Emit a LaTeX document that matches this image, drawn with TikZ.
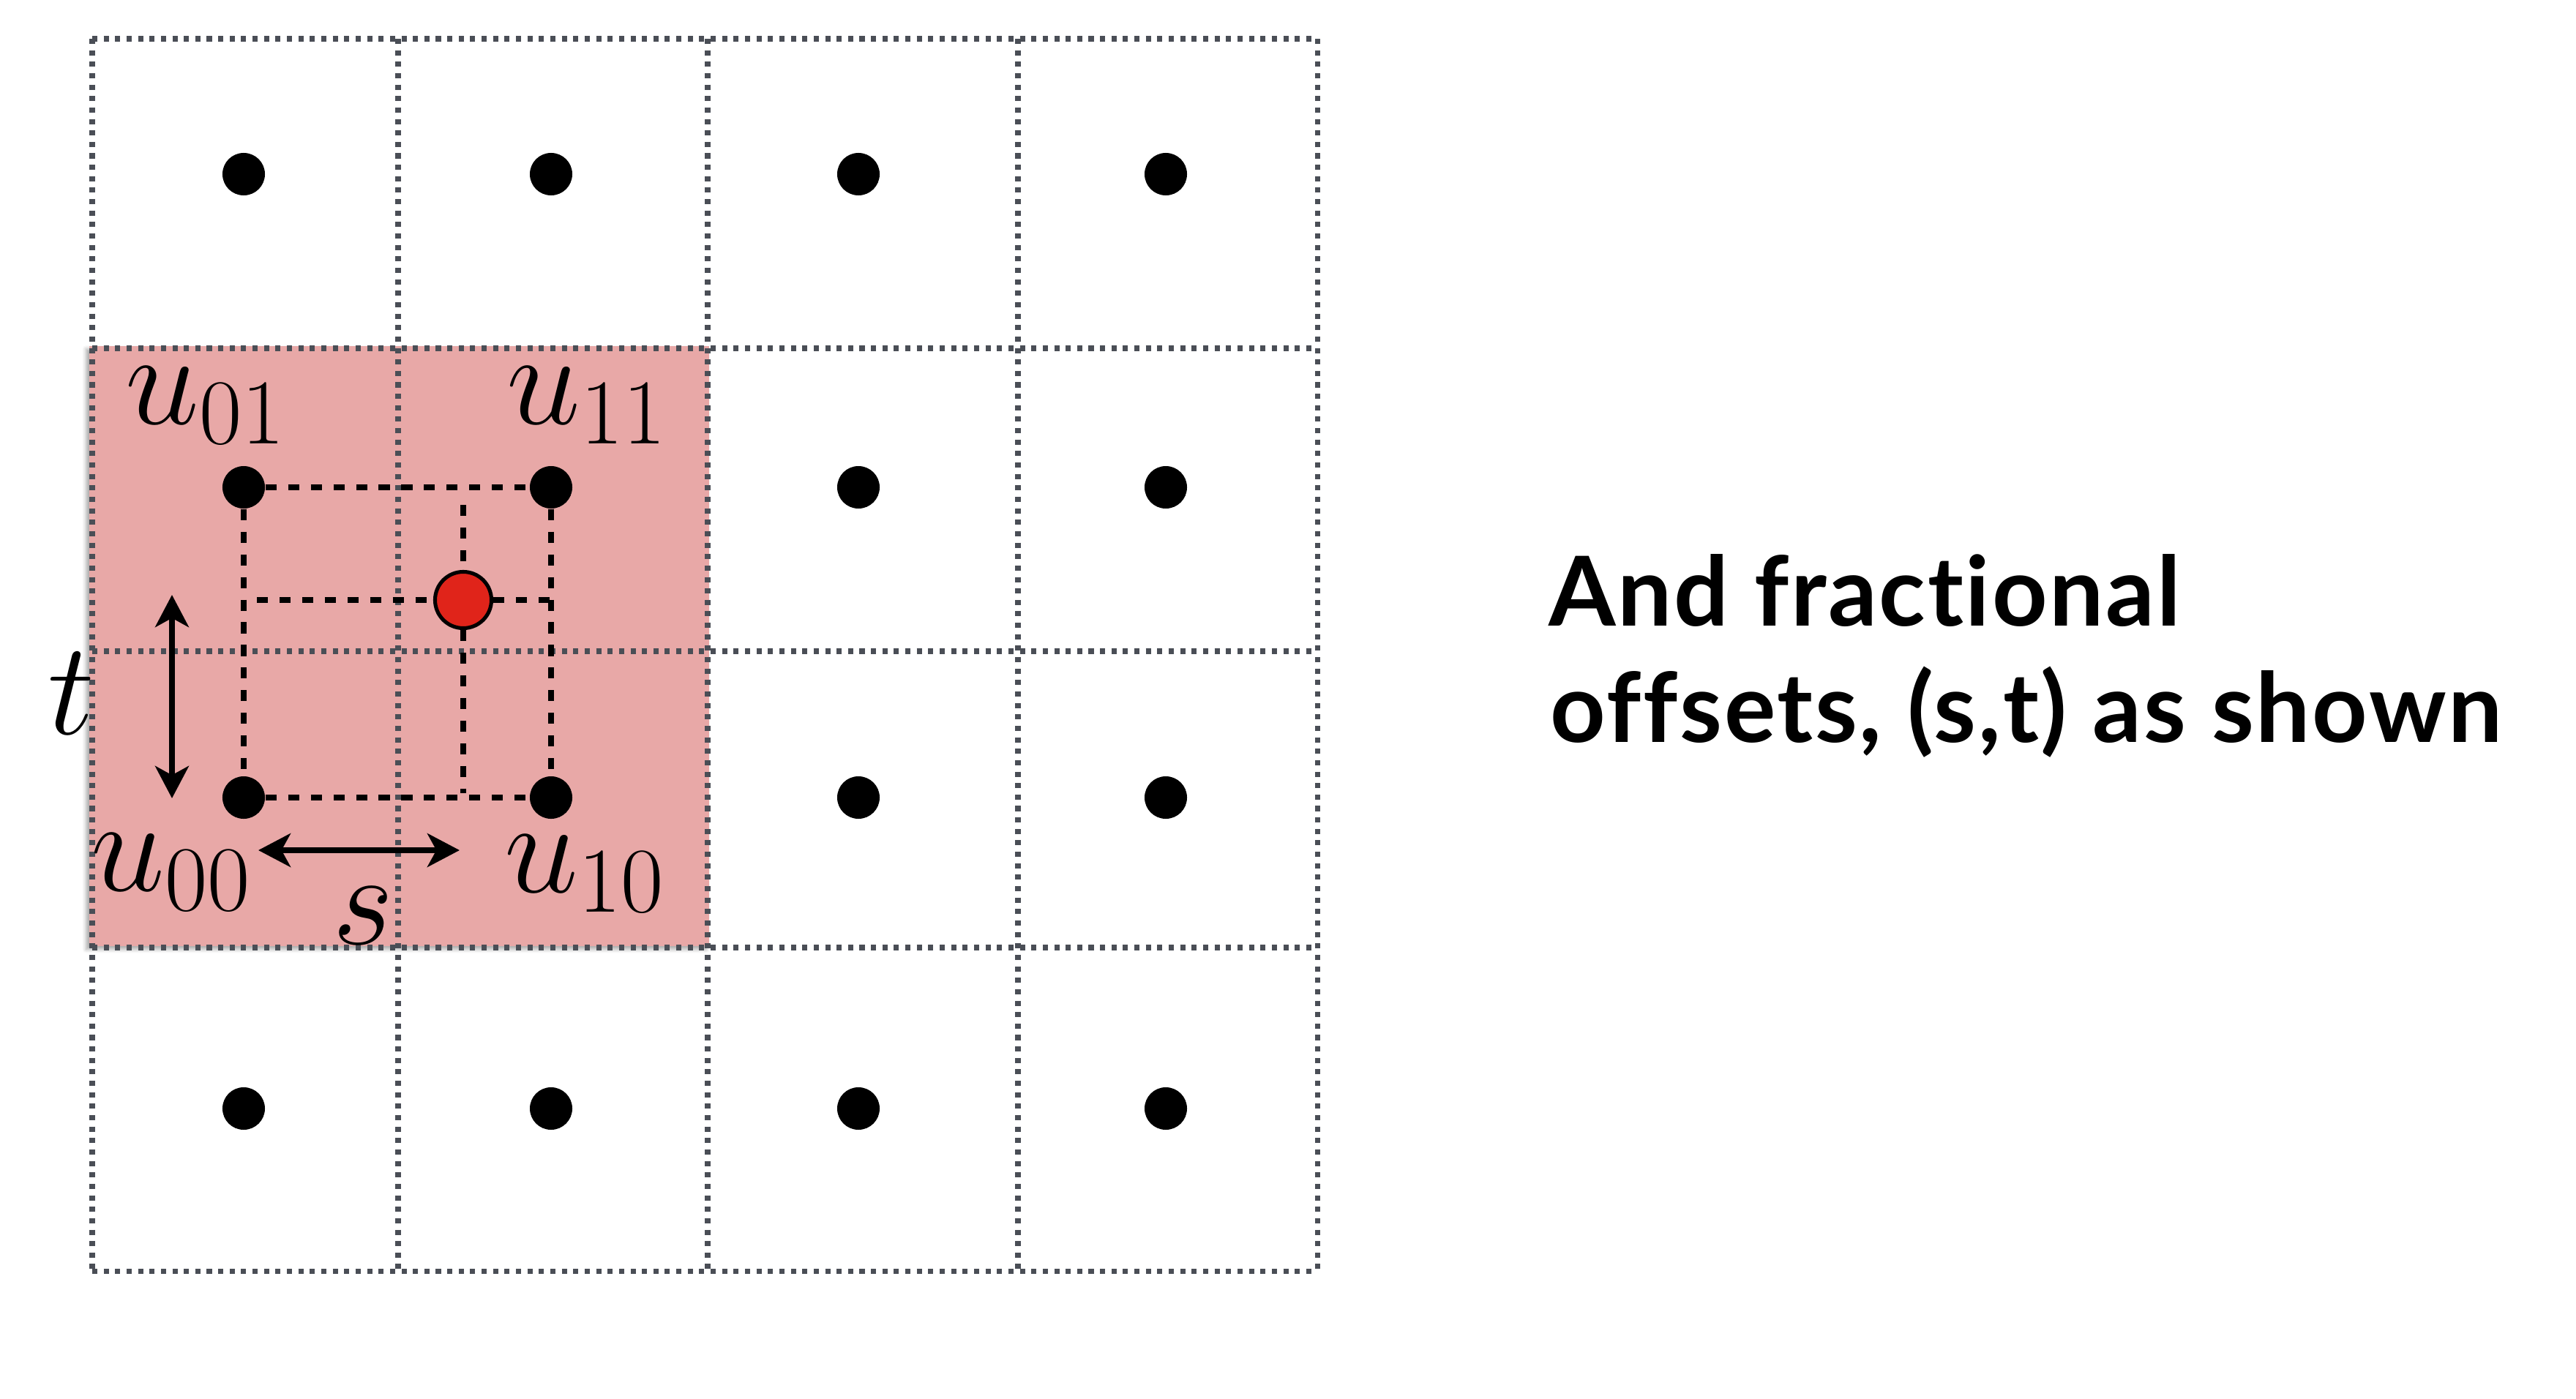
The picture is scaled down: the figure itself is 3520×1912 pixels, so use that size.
\RequirePackage{fix-cm}
\documentclass[tikz,border=0pt]{standalone}
\usepackage{fontspec}
\newfontfamily\avenir{Lato}[Ligatures=NoCommon,LetterSpace=2.0]
\usetikzlibrary{arrows.meta,shadows.blur}
\definecolor{gridgray}{HTML}{4A4E56}
\definecolor{pinkfill}{HTML}{E8A8A7}
\definecolor{reddot}{HTML}{E0241A}
\tikzset{
  gridline/.style={gridgray,line width=2pt,dash pattern=on 2pt off 2.45pt},
  dotnode/.style={circle,fill=black,inner sep=0pt,minimum size=0.58cm},
  reddotnode/.style={circle,fill=reddot,draw=black,line width=1.45pt,inner sep=0pt,minimum size=0.77cm},
  guide/.style={black,line width=2pt,dash pattern=on 4.3pt off 4.5pt},
  dimarrow/.style={black,line width=2.2pt,{Stealth[length=12.5pt,width=13pt,inset=3.5pt]}-{Stealth[length=12.5pt,width=13pt,inset=3.5pt]}},
  mathlabel/.style={anchor=base west,inner sep=0pt,font=\fontsize{51.5}{60}\selectfont},
  bodytext/.style={anchor=base west,inner sep=0pt,font=\avenir\bfseries\fontsize{37.5}{44}\selectfont}
}
\begin{document}
\begin{tikzpicture}[x=0.01cm,y=-0.01cm]
\useasboundingbox (0,0) rectangle (3520,1912);
% highlighted 2x2 block
\fill[pinkfill,blur shadow={shadow xshift=-1.2pt,shadow yshift=-1.2pt,shadow blur radius=1.5pt,shadow opacity=35}] (122,473) rectangle (969,1293);
% grid
\foreach \gx in {126,544,967,1391,1800} \draw[gridline] (\gx,53) -- (\gx,1737);
\foreach \gy in {53,476,890,1295,1737} \draw[gridline] (126,\gy) -- (1800,\gy);
% sample dots
\foreach \cx [count=\i] in {333,753,1173,1593}
  \foreach \ry [count=\j] in {238,666,1090,1515}
    \node[dotnode] (d\i\j) at (\cx,\ry) {};
% the four corners used: d12 = u01, d22 = u11, d13 = u00, d23 = u10
\node[reddotnode] (p) at (633,820) {};
\coordinate (pl) at (351,820);
\coordinate (pr) at (751,820);
\coordinate (pt) at (633,690);
\coordinate (pb) at (633,1084);
% dashed guides
\draw[guide] (d12.east) -- (d22.west);
\draw[guide] (d13.east) -- (d23.west);
\draw[guide] (d12.south) -- (d13.north);
\draw[guide] (d22.south) -- (d23.north);
\draw[guide] (pl) -- (p.west);
\draw[guide] (p.east) -- (pr);
\draw[guide] (pt) -- (p.north);
\draw[guide] (p.south) -- (pb);
% dimension arrows
\coordinate (ta) at (235,813);
\coordinate (tb) at (235,1091);
\coordinate (sa) at (353,1162);
\coordinate (sb) at (628,1162);
\draw[dimarrow] (ta) -- (tb);
\draw[dimarrow] (sa) -- (sb);
% labels
\node[mathlabel] (l01) at (171,579) {$u_{01}$};
\node[mathlabel] (l11) at (692,579) {$u_{11}$};
\node[mathlabel] (l00) at (124,1217) {$u_{00}$};
\node[mathlabel] (l10) at (689,1219) {$u_{10}$};
\node[mathlabel] (ls) at (454,1290) {$s$};
\node[mathlabel] (lt) at (65,1003) {$t$};
% text
\node[bodytext] (txt1) at (2116,855) {And fractional};
\node[bodytext] (txt2) at (2118,1014) {offsets, (s,t) as shown};
\end{tikzpicture}
\end{document}
